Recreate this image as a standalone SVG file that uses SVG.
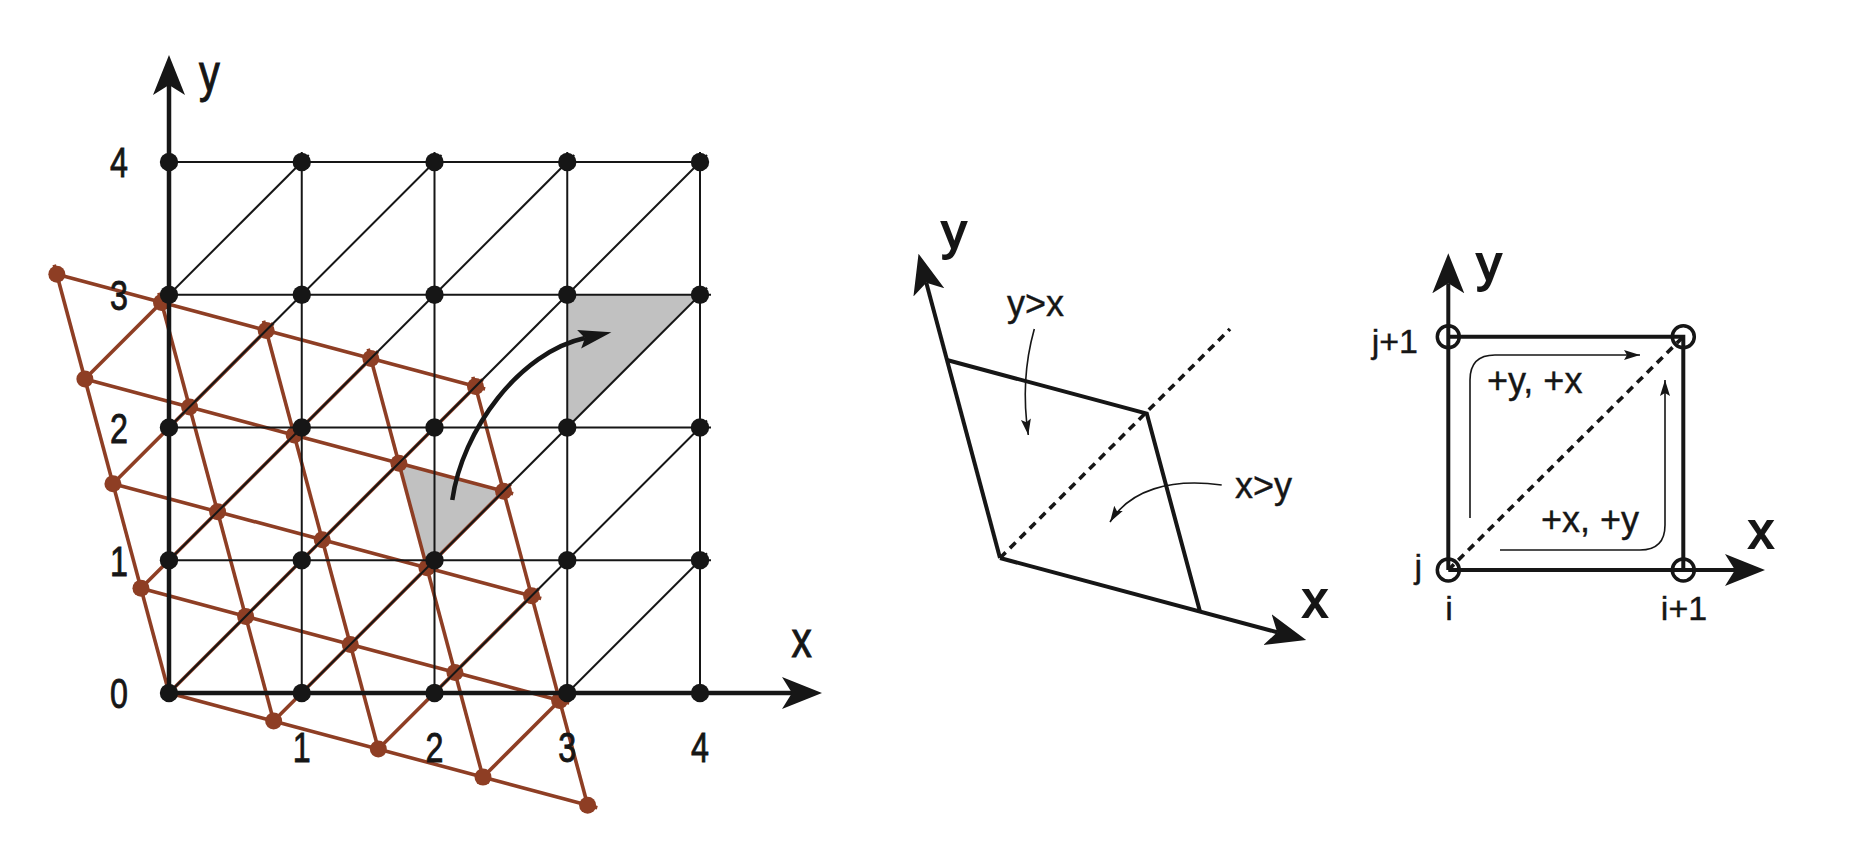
<svg xmlns="http://www.w3.org/2000/svg" width="1860" height="850" viewBox="0 0 1860 850">
<style>
  text { font-family: "Liberation Sans", Arial, sans-serif; fill: #161616; }
  .g { stroke: #161616; stroke-width: 2; fill: none; }
  .ax { stroke: #161616; stroke-width: 4.5; fill: none; }
  .br { stroke: #8e3e24; stroke-width: 3.6; fill: none; }
  .bn { fill: #8e3e24; }
  .kn { fill: #161616; }
  .shade { fill: #c1c1c1; }
  .thick { stroke: #161616; stroke-width: 4; fill: none; }
  .dash { stroke: #161616; stroke-width: 3.6; fill: none; stroke-dasharray: 8 6; }
  .thin { stroke: #161616; stroke-width: 1.6; fill: none; }
  .open { stroke: #161616; stroke-width: 3.5; fill: none; }
  .num { font-size: 43px; text-anchor: middle; stroke: #161616; stroke-width: 0.9; }
  .lab { font-size: 52px; text-anchor: middle; stroke: #161616; stroke-width: 1; }
  .mid { font-size: 36px; stroke: #161616; stroke-width: 0.4; }
  .big { font-size: 50px; text-anchor: middle; stroke: #161616; stroke-width: 2; }
</style>
<defs>
  <marker id="bigArrow" markerUnits="userSpaceOnUse" markerWidth="44" markerHeight="36" refX="10" refY="18" orient="auto" viewBox="0 0 44 36">
    <path d="M0,2 L40,18 L0,34 L10,18 Z" fill="#161616"/>
  </marker>
  <marker id="curveArrow" markerUnits="userSpaceOnUse" markerWidth="36" markerHeight="22" refX="6" refY="11" orient="auto" viewBox="0 0 36 22">
    <path d="M0,1.5 L33,11 L0,20.5 L6,11 Z" fill="#161616"/>
  </marker>
  <marker id="smallArrow" markerUnits="userSpaceOnUse" markerWidth="18" markerHeight="12" refX="16" refY="6" orient="auto" viewBox="0 0 18 12">
    <path d="M0,1 L16,6 L0,11 L3,6 Z" fill="#161616"/>
  </marker>
</defs>

<!-- LEFT FIGURE -->
<g id="shaded-regions">
  <polygon class="shade" points="426.90,567.80 398.86,463.14 503.52,491.18"/>
  <polygon class="shade" points="567.25,427.5 567.25,294.75 700,294.75"/>
</g>

<g id="brown-lattice">
  <line class="br" x1="169" y1="693" x2="597.30" y2="807.75"/>
  <line class="br" x1="140.96" y1="588.34" x2="569.26" y2="703.09"/>
  <line class="br" x1="112.92" y1="483.68" x2="541.22" y2="598.43"/>
  <line class="br" x1="84.88" y1="379.02" x2="513.18" y2="493.77"/>
  <line class="br" x1="56.84" y1="274.36" x2="485.14" y2="389.11"/>
  <line class="br" x1="169" y1="693" x2="54.25" y2="264.70"/>
  <line class="br" x1="273.66" y1="721.04" x2="158.91" y2="292.74"/>
  <line class="br" x1="378.32" y1="749.08" x2="263.57" y2="320.78"/>
  <line class="br" x1="482.98" y1="777.12" x2="368.23" y2="348.82"/>
  <line class="br" x1="587.64" y1="805.16" x2="472.89" y2="376.86"/>
  <line class="br" x1="169" y1="693" x2="482.55" y2="379.45"/>
  <line class="br" x1="140.96" y1="588.34" x2="377.89" y2="351.41"/>
  <line class="br" x1="112.92" y1="483.68" x2="273.23" y2="323.37"/>
  <line class="br" x1="84.88" y1="379.02" x2="168.57" y2="295.33"/>
  <line class="br" x1="273.66" y1="721.04" x2="510.59" y2="484.11"/>
  <line class="br" x1="378.32" y1="749.08" x2="538.63" y2="588.77"/>
  <line class="br" x1="482.98" y1="777.12" x2="566.67" y2="693.43"/>
</g>

<g id="brown-nodes">
  <circle class="bn" cx="169" cy="693" r="8.5"/>
  <circle class="bn" cx="140.96" cy="588.34" r="8.5"/>
  <circle class="bn" cx="112.92" cy="483.68" r="8.5"/>
  <circle class="bn" cx="84.88" cy="379.02" r="8.5"/>
  <circle class="bn" cx="56.84" cy="274.36" r="8.5"/>
  <circle class="bn" cx="273.66" cy="721.04" r="8.5"/>
  <circle class="bn" cx="245.62" cy="616.38" r="8.5"/>
  <circle class="bn" cx="217.58" cy="511.72" r="8.5"/>
  <circle class="bn" cx="189.54" cy="407.06" r="8.5"/>
  <circle class="bn" cx="161.50" cy="302.40" r="8.5"/>
  <circle class="bn" cx="378.32" cy="749.08" r="8.5"/>
  <circle class="bn" cx="350.28" cy="644.42" r="8.5"/>
  <circle class="bn" cx="322.24" cy="539.76" r="8.5"/>
  <circle class="bn" cx="294.20" cy="435.10" r="8.5"/>
  <circle class="bn" cx="266.16" cy="330.44" r="8.5"/>
  <circle class="bn" cx="482.98" cy="777.12" r="8.5"/>
  <circle class="bn" cx="454.94" cy="672.46" r="8.5"/>
  <circle class="bn" cx="426.90" cy="567.80" r="8.5"/>
  <circle class="bn" cx="398.86" cy="463.14" r="8.5"/>
  <circle class="bn" cx="370.82" cy="358.48" r="8.5"/>
  <circle class="bn" cx="587.64" cy="805.16" r="8.5"/>
  <circle class="bn" cx="559.60" cy="700.50" r="8.5"/>
  <circle class="bn" cx="531.56" cy="595.84" r="8.5"/>
  <circle class="bn" cx="503.52" cy="491.18" r="8.5"/>
  <circle class="bn" cx="475.48" cy="386.52" r="8.5"/>
</g>

<g id="black-grid">
  <line class="g" x1="169" y1="560.25" x2="711" y2="560.25"/>
  <line class="g" x1="169" y1="427.5" x2="711" y2="427.5"/>
  <line class="g" x1="169" y1="294.75" x2="711" y2="294.75"/>
  <line class="g" x1="169" y1="162" x2="708" y2="162"/>
  <line class="g" x1="301.75" y1="693" x2="301.75" y2="152"/>
  <line class="g" x1="434.5" y1="693" x2="434.5" y2="152"/>
  <line class="g" x1="567.25" y1="693" x2="567.25" y2="152"/>
  <line class="g" x1="700" y1="693" x2="700" y2="152"/>
  <line class="g" x1="169" y1="693" x2="707" y2="155"/>
  <line class="g" x1="169" y1="560.25" x2="574.25" y2="155"/>
  <line class="g" x1="169" y1="427.5" x2="441.5" y2="155"/>
  <line class="g" x1="169" y1="294.75" x2="308.75" y2="155"/>
  <line class="g" x1="301.75" y1="693" x2="707" y2="287.75"/>
  <line class="g" x1="434.5" y1="693" x2="707" y2="420.5"/>
  <line class="g" x1="567.25" y1="693" x2="707" y2="553.25"/>
</g>

<g id="left-axes">
  <path class="ax" d="M169,693 L169,85" marker-end="url(#bigArrow)"/>
  <path class="ax" d="M169,693 L792,693" marker-end="url(#bigArrow)"/>
</g>

<g id="black-nodes">
  <circle class="kn" cx="169" cy="693" r="9.2"/>
  <circle class="kn" cx="301.75" cy="693" r="9.2"/>
  <circle class="kn" cx="434.5" cy="693" r="9.2"/>
  <circle class="kn" cx="567.25" cy="693" r="9.2"/>
  <circle class="kn" cx="700" cy="693" r="9.2"/>
  <circle class="kn" cx="169" cy="560.25" r="9.2"/>
  <circle class="kn" cx="301.75" cy="560.25" r="9.2"/>
  <circle class="kn" cx="434.5" cy="560.25" r="9.2"/>
  <circle class="kn" cx="567.25" cy="560.25" r="9.2"/>
  <circle class="kn" cx="700" cy="560.25" r="9.2"/>
  <circle class="kn" cx="169" cy="427.5" r="9.2"/>
  <circle class="kn" cx="301.75" cy="427.5" r="9.2"/>
  <circle class="kn" cx="434.5" cy="427.5" r="9.2"/>
  <circle class="kn" cx="567.25" cy="427.5" r="9.2"/>
  <circle class="kn" cx="700" cy="427.5" r="9.2"/>
  <circle class="kn" cx="169" cy="294.75" r="9.2"/>
  <circle class="kn" cx="301.75" cy="294.75" r="9.2"/>
  <circle class="kn" cx="434.5" cy="294.75" r="9.2"/>
  <circle class="kn" cx="567.25" cy="294.75" r="9.2"/>
  <circle class="kn" cx="700" cy="294.75" r="9.2"/>
  <circle class="kn" cx="169" cy="162" r="9.2"/>
  <circle class="kn" cx="301.75" cy="162" r="9.2"/>
  <circle class="kn" cx="434.5" cy="162" r="9.2"/>
  <circle class="kn" cx="567.25" cy="162" r="9.2"/>
  <circle class="kn" cx="700" cy="162" r="9.2"/>
</g>

<g id="mapping-arrow">
  <path d="M452.3,500 C462,430 520,352 585,338" stroke="#161616" stroke-width="4.5" fill="none" marker-end="url(#curveArrow)"/>
</g>

<g id="left-labels">
  <text class="lab" transform="translate(209.5,90.5) scale(0.8,1)">y</text>
  <text class="lab" transform="translate(801.7,657) scale(0.78,1)">x</text>
  <text class="num" transform="translate(119,708) scale(0.75,1)">0</text>
  <text class="num" transform="translate(119,575.5) scale(0.75,1)">1</text>
  <text class="num" transform="translate(119,442.5) scale(0.75,1)">2</text>
  <text class="num" transform="translate(119,310) scale(0.75,1)">3</text>
  <text class="num" transform="translate(119,177) scale(0.75,1)">4</text>
  <text class="num" transform="translate(301.75,761.5) scale(0.75,1)">1</text>
  <text class="num" transform="translate(434.5,761.5) scale(0.75,1)">2</text>
  <text class="num" transform="translate(567.25,761.5) scale(0.75,1)">3</text>
  <text class="num" transform="translate(700,761.5) scale(0.75,1)">4</text>
</g>

<!-- MIDDLE FIGURE -->
<g id="middle-figure">
  <path class="thick" d="M1000,558 L926.3,282.7" marker-end="url(#bigArrow)"/>
  <path class="thick" d="M1000,558 L1277.2,632.2" marker-end="url(#bigArrow)"/>
  <polyline class="thick" points="946.9,360 1146.8,413.6 1200,611.6"/>
  <line class="dash" x1="1000" y1="558" x2="1230" y2="329"/>
  <path class="thin" d="M1034.3,329 Q1020,380 1028.3,435" marker-end="url(#smallArrow)"/>
  <path class="thin" d="M1221.7,485 C1170,478 1130,490 1110,522" marker-end="url(#smallArrow)"/>
  <text class="big" x="954" y="249">y</text>
  <text class="big" x="1315" y="617">x</text>
  <text class="mid" x="1007" y="316">y&gt;x</text>
  <text class="mid" x="1235" y="498">x&gt;y</text>
</g>

<!-- RIGHT FIGURE -->
<g id="right-figure">
  <path class="thick" d="M1448.3,570 L1448.3,283.3" marker-end="url(#bigArrow)"/>
  <path class="thick" d="M1448.3,570 L1735,570" marker-end="url(#bigArrow)"/>
  <polyline class="thick" points="1448.3,336.7 1683.3,336.7 1683.3,570"/>
  <line class="dash" x1="1448.3" y1="570" x2="1683.3" y2="336.7"/>
  <circle class="open" cx="1448.3" cy="336.7" r="11"/>
  <circle class="open" cx="1683.3" cy="336.7" r="11"/>
  <circle class="open" cx="1448.3" cy="570" r="11"/>
  <circle class="open" cx="1683.3" cy="570" r="11"/>
  <path class="thin" d="M1470,518 L1470,380 Q1470,355 1495,355 L1640,355" marker-end="url(#smallArrow)"/>
  <path class="thin" d="M1500,550 L1640,550 Q1665,550 1665,525 L1665,380" marker-end="url(#smallArrow)"/>
  <text class="big" x="1489" y="281">y</text>
  <text class="big" x="1761" y="548">x</text>
  <text class="mid" x="1487" y="393">+y, +x</text>
  <text class="mid" x="1541" y="531.7">+x, +y</text>
  <text class="mid" x="1418" y="353" text-anchor="end" style="font-size:34px">j+1</text>
  <text class="mid" x="1422" y="578" text-anchor="end" style="font-size:34px">j</text>
  <text class="mid" x="1449" y="620" text-anchor="middle" style="font-size:34px">i</text>
  <text class="mid" x="1684" y="620" text-anchor="middle" style="font-size:34px">i+1</text>
</g>
</svg>
